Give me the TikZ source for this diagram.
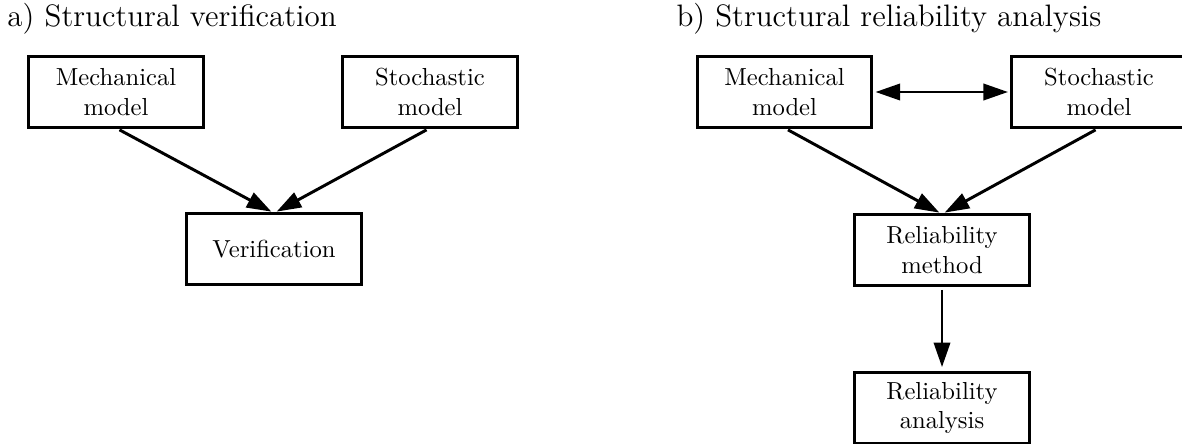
\documentclass[tikz,border=0pt]{standalone}
\usetikzlibrary{arrows.meta}
\begin{document}
\begin{tikzpicture}[x=0.40609pt,y=-0.40609pt,
  box/.style={draw,line width=1.2pt,minimum width=70.7pt,minimum height=29.2pt,
    align=center,inner sep=0pt,outer sep=0pt,font=\normalsize},
  tip/.tip={Triangle[length=10pt,width=6.6pt]},
  conn/.style={line width=1.2pt,-tip,shorten <=1.6pt,shorten >=1.2pt},
  title/.style={anchor=base west,inner sep=0pt,font=\fontsize{12.6pt}{15pt}\selectfont}]
\useasboundingbox[clip] (0,0) rectangle (1182,443);
% a)
\node[title] (ta) at (7,26) {a) Structural verification};
\node[box] (mechA) at (116,92) {Mechanical\\model};
\node[box] (stochA) at (430,92) {Stochastic\\model};
\node[box] (verif) at (274,249) {Verification};
\draw[conn] (mechA.south) -- (verif.north);
\draw[conn] (stochA.south) -- (verif.north);
% b)
\node[title] (tb) at (676,26) {b) Structural reliability analysis};
\node[box] (mechB) at (784.5,92) {Mechanical\\model};
\node[box] (stochB) at (1099,92) {Stochastic\\model};
\node[box] (relM) at (942,250) {Reliability\\method};
\node[box] (relA) at (942,408) {Reliability\\analysis};
\draw[line width=1.2pt,tip-tip,shorten <=1.6pt,shorten >=1.6pt] (mechB.east) -- (stochB.west);
\draw[conn] (mechB.south) -- (relM.north);
\draw[conn] (stochB.south) -- (relM.north);
\draw[conn,shorten >=2pt] (relM.south) -- (relA.north);
\end{tikzpicture}
\end{document}
